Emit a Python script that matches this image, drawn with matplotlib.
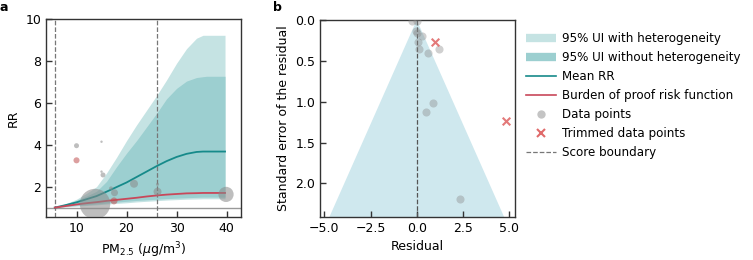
import numpy as np
import matplotlib
matplotlib.use("Agg")
import matplotlib.pyplot as plt
from matplotlib.lines import Line2D

plt.rcParams['font.family'] = ['DejaVu Sans']
plt.rcParams['font.size'] = 9

# ---- Panel a data ----
exp_x = [5.66, 8, 10, 12, 14, 16, 18, 20, 22, 24, 26, 28, 30, 32, 34, 35.3, 36, 39.7]
mean_rr = [1.0, 1.13, 1.25, 1.40, 1.55, 1.76, 1.98, 2.2, 2.46, 2.72, 2.98, 3.22, 3.42, 3.57, 3.66, 3.68, 3.68, 3.68]
bprf = [1.0, 1.08, 1.15, 1.21, 1.26, 1.32, 1.37, 1.42, 1.47, 1.53, 1.58, 1.62, 1.65, 1.68, 1.69, 1.70, 1.70, 1.70]
ui_het_upper = [1.0, 1.2, 1.4, 1.68, 2.0, 2.65, 3.4, 4.2, 4.95, 5.65, 6.35, 7.1, 7.9, 8.6, 9.1, 9.24, 9.24, 9.24]
ui_het_lower = [1.0, 1.04, 1.07, 1.10, 1.13, 1.17, 1.20, 1.23, 1.27, 1.30, 1.33, 1.36, 1.38, 1.40, 1.41, 1.42, 1.42, 1.42]
ui_upper = [1.0, 1.18, 1.35, 1.55, 1.78, 2.25, 2.95, 3.6, 4.2, 4.85, 5.5, 6.2, 6.7, 7.05, 7.22, 7.26, 7.28, 7.28]
ui_lower = [1.0, 1.06, 1.10, 1.14, 1.18, 1.22, 1.26, 1.30, 1.34, 1.37, 1.40, 1.43, 1.45, 1.47, 1.49, 1.50, 1.50, 1.50]
score_bounds = [5.66, 26.1]

pts_x = [13.7, 10.0, 10.0, 15.0, 15.0, 15.3, 16.9, 17.6, 17.5, 21.5, 26.2, 26.2, 39.9]
pts_y = [1.17, 3.96, 3.26, 4.15, 2.72, 2.56, 1.92, 1.71, 1.32, 2.14, 2.11, 1.76, 1.63]
pts_size = [480, 13, 19, 3, 3, 13, 8, 25, 25, 33, 5, 33, 120]
pts_trimmed = [False, False, True, False, False, False, False, False, True, False, False, False, False]

# ---- Panel b data ----
res_x = [-0.28, 0.0, -0.04, 0.0, 0.26, 0.08, 0.14, 0.6, 1.22, 0.89, 0.48, 2.34]
res_se = [0.01, 0.01, 0.14, 0.16, 0.20, 0.27, 0.35, 0.41, 0.35, 1.01, 1.13, 2.19]
trim_x = [1.0, 4.8]
trim_se = [0.27, 1.23]
funnel_se_max = 2.41
z = 1.96

c_light = '#c5e3e3'
c_dark = '#9ccfd0'
c_teal = '#168a8a'
c_red = '#c8485a'
c_funnel = '#cfe8ee'
c_gray = '#8a8a8a'
c_xred = '#e06a6a'
c_ptred = '#c05050'

fig = plt.figure(figsize=(7.53, 2.6), dpi=100)
ax1 = fig.add_axes([0.0611, 0.1654, 0.259, 0.760])
ax2 = fig.add_axes([0.425, 0.1654, 0.2594, 0.758])

# Panel a
ax1.fill_between(exp_x, ui_het_lower, ui_het_upper, color=c_light, lw=0)
ax1.fill_between(exp_x, ui_lower, ui_upper, color=c_dark, lw=0)
ax1.axhline(1.0, color='#999999', lw=1.0)
for b in score_bounds:
    ax1.axvline(b, color='#777777', ls='--', lw=0.9)
ax1.plot(exp_x, mean_rr, color=c_teal, lw=1.3)
ax1.plot(exp_x, bprf, color=c_red, lw=1.3)
cols = [c_ptred if t else c_gray for t in pts_trimmed]
ax1.scatter(pts_x, pts_y, s=pts_size, c=cols, alpha=0.55, lw=0, zorder=3)
ax1.set_xlim(3.9, 42.9)
ax1.set_ylim(0.55, 10)
ax1.set_xticks([10, 20, 30, 40])
ax1.set_yticks([2, 4, 6, 8, 10])
ax1.set_xlabel(r'PM$_{2.5}$ ($\mu$g/m$^3$)', fontsize=9)
ax1.set_ylabel('RR', fontsize=9)

# Panel b
ax2.fill([-z * funnel_se_max, 0, z * funnel_se_max], [funnel_se_max, 0, funnel_se_max],
         color=c_funnel, lw=0)
ax2.axvline(0, color='#555555', ls='--', lw=0.9)
ax2.scatter(res_x, res_se, s=34, color=c_gray, alpha=0.4, lw=0, zorder=3)
ax2.scatter(trim_x, trim_se, s=30, marker='x', color=c_xred, lw=1.5, alpha=0.9, zorder=3)
ax2.set_xlim(-5.23, 5.33)
ax2.set_ylim(funnel_se_max, 0)
ax2.set_xticks([-5.0, -2.5, 0.0, 2.5, 5.0])
ax2.set_yticks([0.0, 0.5, 1.0, 1.5, 2.0])
ax2.set_xlabel('Residual', fontsize=9)
ax2.set_ylabel('Standard error of the residual', fontsize=9)

for ax in (ax1, ax2):
    ax.tick_params(direction='in', length=4, width=1, labelsize=9, color='#333333')
    for s in ax.spines.values():
        s.set_color('#333333')
        s.set_linewidth(1.0)

fig.text(0.0, 0.995, 'a', fontweight='bold', fontsize=9, va='top', ha='left')
fig.text(0.363, 0.995, 'b', fontweight='bold', fontsize=9, va='top', ha='left')

handles = [
    Line2D([], [], color=c_light, lw=6, solid_capstyle='butt'),
    Line2D([], [], color=c_dark, lw=6, solid_capstyle='butt'),
    Line2D([], [], color=c_teal, lw=1.2),
    Line2D([], [], color=c_red, lw=1.2),
    Line2D([], [], color=c_gray, alpha=0.5, marker='o', ls='none', markersize=6, mew=0),
    Line2D([], [], color=c_xred, marker='x', ls='none', markersize=6, mew=1.5),
    Line2D([], [], color='#777777', ls='--', lw=0.9),
]
labels = ['95% UI with heterogeneity', '95% UI without heterogeneity', 'Mean RR',
          'Burden of proof risk function', 'Data points', 'Trimmed data points', 'Score boundary']
fig.legend(handles, labels, loc='upper left', bbox_to_anchor=(0.692, 0.895), frameon=False,
           fontsize=8.6, handlelength=2.5, handletextpad=0.55, labelspacing=0.5, borderaxespad=0)

fig.savefig('out.png', dpi=100)
